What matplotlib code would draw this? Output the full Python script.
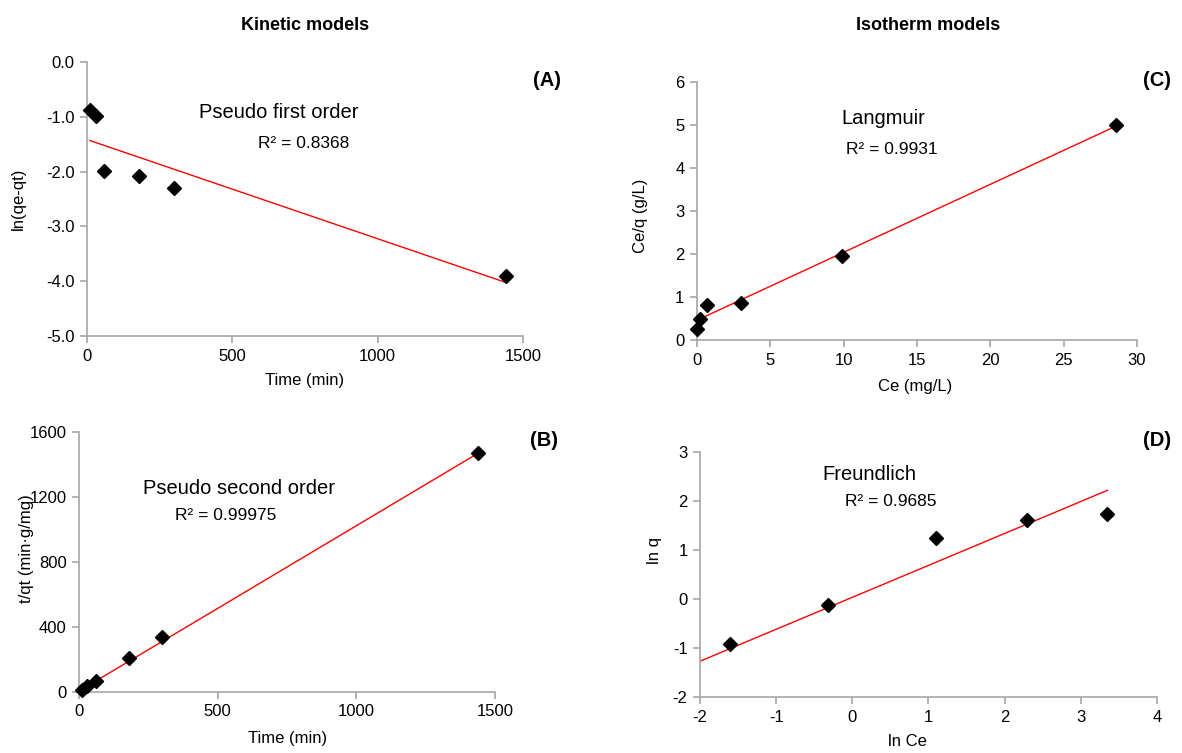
import numpy as np
import matplotlib
matplotlib.use("Agg")
import matplotlib.pyplot as plt

plt.rcParams['font.family'] = ['Liberation Sans', 'DejaVu Sans']
plt.rcParams['axes.unicode_minus'] = False

# --- data ---
# (A) pseudo first order
a_time = [10, 30, 60, 180, 300, 1440]
a_lnq = [-0.88, -0.99, -1.99, -2.08, -2.30, -3.91]
a_fit = (-0.00181, -1.415)   # slope, intercept of the Excel trend line

# (B) pseudo second order
b_time = [10, 30, 60, 180, 300, 1440]
b_tq = [15, 40, 67, 208, 336, 1470]
b_fit = (1.017, 6.0)

# (C) Langmuir
c_ce = [0.0, 0.2, 0.71, 3.0, 9.9, 28.6]
c_ceq = [0.25, 0.50, 0.81, 0.85, 1.95, 5.01]
c_fit = (0.158, 0.46)

# (D) Freundlich
d_lnce = [-1.605, -0.325, 1.097, 2.292, 3.35]
d_lnq = [-0.925, -0.116, 1.245, 1.62, 1.735]
d_fit = (0.652, 0.034)
d_fit_range = [-2.0, 3.35]

W, H = 1182, 753
fig = plt.figure(figsize=(W / 100, H / 100), dpi=100)


def rect(l, t, r, b):
    return [l / W, 1 - b / H, (r - l) / W, (b - t) / H]


def ptext(x, y, s, **kw):
    # place text using pixel coords of the reference
    kw.setdefault('ha', 'center')
    kw.setdefault('va', 'center')
    fig.text(x / W, 1 - y / H, s, **kw)


def style(ax, xlim, xticks, ylim, yticks, yfmt=None):
    ax.set_xlim(xlim)
    ax.set_ylim(ylim)
    ax.set_xticks(xticks)
    ax.set_yticks(yticks)
    if yfmt:
        ax.set_yticklabels([yfmt % v for v in yticks])
    for s in ['top', 'right']:
        ax.spines[s].set_visible(False)
    for s in ['left', 'bottom']:
        ax.spines[s].set_color('#a6a6a6')
        ax.spines[s].set_linewidth(1.2)
    ax.tick_params(direction='out', length=5, width=1.2, color='#a6a6a6',
                   labelcolor='black', labelsize=12, pad=4)


def draw(ax, x, y, fit, xr=None):
    if xr is None:
        xr = [min(x), max(x)]
    xf = np.array(xr)
    ax.plot(xf, fit[0] * xf + fit[1], color='red', lw=1, zorder=2)
    ax.plot(x, y, 'D', color='black', markersize=7, zorder=3, clip_on=False)


axA = fig.add_axes(rect(87, 62, 523, 336))
draw(axA, a_time, a_lnq, a_fit)
style(axA, (0, 1500), [0, 500, 1000, 1500], (-5, 0), [0, -1, -2, -3, -4, -5], '%.1f')

axB = fig.add_axes(rect(79, 432, 495, 692))
draw(axB, b_time, b_tq, b_fit)
style(axB, (0, 1500), [0, 500, 1000, 1500], (0, 1600), [0, 400, 800, 1200, 1600])

axC = fig.add_axes(rect(697, 82, 1137, 340))
draw(axC, c_ce, c_ceq, c_fit)
style(axC, (0, 30), [0, 5, 10, 15, 20, 25, 30], (0, 6), [0, 1, 2, 3, 4, 5, 6])

axD = fig.add_axes(rect(700, 452, 1157, 697))
draw(axD, d_lnce, d_lnq, d_fit, d_fit_range)
style(axD, (-2, 4), [-2, -1, 0, 1, 2, 3, 4], (-2, 3), [-2, -1, 0, 1, 2, 3])

# titles
ptext(305, 25, 'Kinetic models', fontsize=13, fontweight='bold')
ptext(928, 25, 'Isotherm models', fontsize=13, fontweight='bold')

# panel letters
ptext(547, 80, '(A)', fontsize=14.5, fontweight='bold')
ptext(544, 441, '(B)', fontsize=14.5, fontweight='bold')
ptext(1143, 81, '(C)', fontsize=14.5, fontweight='bold', ha='left')
ptext(1143, 440, '(D)', fontsize=14.5, fontweight='bold', ha='left')

# model names and R²
ptext(279, 113, 'Pseudo first order', fontsize=14.5)
ptext(304, 143, 'R² = 0.8368', fontsize=12.5)
ptext(239, 488, 'Pseudo second order', fontsize=14.5)
ptext(226, 516, 'R² = 0.99975', fontsize=12.5)
ptext(883, 119, 'Langmuir', fontsize=14.5)
ptext(892, 150, 'R² = 0.9931', fontsize=12.5)
ptext(869, 474, 'Freundlich', fontsize=14.5)
ptext(891, 502, 'R² = 0.9685', fontsize=12.5)

# axis labels
ptext(18, 199, 'ln(qe-qt)', fontsize=12, rotation=90)
ptext(305, 381, 'Time (min)', fontsize=12)
ptext(26, 549, 't/qt (min·g/mg)', fontsize=12, rotation=90)
ptext(288, 738, 'Time (min)', fontsize=12)
ptext(640, 216, 'Ce/q (g/L)', fontsize=12, rotation=90)
ptext(915, 386, 'Ce (mg/L)', fontsize=12)
ptext(655, 550, 'ln q', fontsize=12, rotation=90)
ptext(907, 741, 'ln Ce', fontsize=12)

plt.savefig('out.png', dpi=100)
